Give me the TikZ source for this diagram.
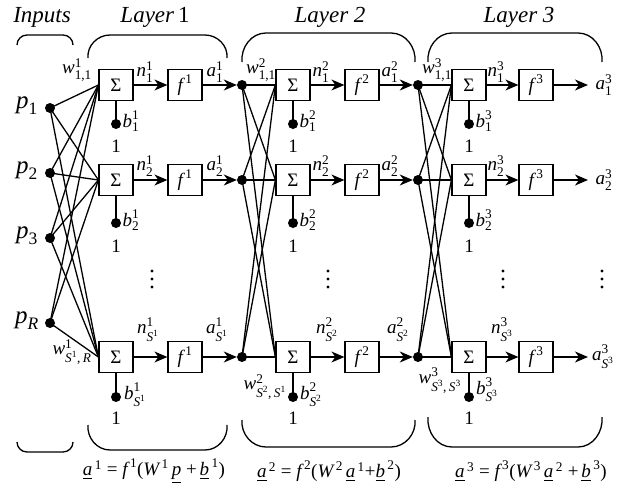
\documentclass[tikz,border=0pt]{standalone}
\usepackage{amsmath}
\usepackage{fontspec}
\setmainfont{Liberation Serif}
\usetikzlibrary{arrows.meta}
\newcommand{\I}[1]{\text{\itshape #1}}
\newcommand{\RR}[1]{\text{\upshape #1}}
\begin{document}
\begin{tikzpicture}[x=1pt,y=-1pt,
  font=\fontsize{19}{21}\selectfont,
  box/.style={draw, line width=1.2pt, minimum width=34pt, minimum height=31pt, inner sep=0pt},
  dot/.style={circle, fill, inner sep=0pt, minimum size=10pt},
  wire/.style={line width=1.3pt},
  arr/.style={wire, -{Stealth[length=13pt,width=11pt,inset=4pt]}},
  brace/.style={line width=1.3pt},
  big/.style={font=\fontsize{23}{26}\selectfont},
  inp/.style={font=\fontsize{25}{28}\selectfont},
  lbl/.style={inner sep=0pt}]
\useasboundingbox (0,0) rectangle (625,485);

% titles
\node[big] (tin) at (42,17) {\textit{Inputs}};
\node[big] (tl1) at (155,17) {\textit{Layer}\,1};
\node[big] (tl2) at (330,17) {\textit{Layer 2}};
\node[big] (tl3) at (519,17) {\textit{Layer 3}};

% top braces
\draw[brace] (17,45) to[out=90,in=180] (27,35) -- (63,35) to[out=0,in=90] (73,45);
\draw[brace] (88,58) to[out=95,in=180] (110,35) -- (205,35) to[out=0,in=85] (227,58);
\draw[brace] (242,62) to[out=95,in=180] (266,33) -- (391,33) to[out=0,in=85] (415,62);
\draw[brace] (428,62) to[out=95,in=180] (452,33) -- (578,33) to[out=0,in=85] (602,62);
% bottom braces
\draw[brace] (17,442) to[out=-90,in=180] (27,452) -- (63,452) to[out=0,in=-90] (73,442);
\draw[brace] (88,425) to[out=-95,in=180] (110,450) -- (205,450) to[out=0,in=-85] (227,425);
\draw[brace] (242,420) to[out=-95,in=180] (266,447) -- (391,447) to[out=0,in=-85] (415,420);
\draw[brace] (428,417) to[out=-95,in=180] (452,447) -- (578,447) to[out=0,in=-85] (602,417);

% inputs
\node[dot] (p1) at (50,108) {};
\node[dot] (p2) at (50,173) {};
\node[dot] (p3) at (50,238) {};
\node[dot] (pR) at (50,323) {};
\node[inp,lbl] (lp1) at (27,106) {$\I{p}_{\RR{1}}$};
\node[inp,lbl] (lp2) at (27,171) {$\I{p}_{\RR{2}}$};
\node[inp,lbl] (lp3) at (27,236) {$\I{p}_{\RR{3}}$};
\node[inp,lbl] (lpR) at (27,321) {$\I{p}_{\I{R}}$};

% boxes
\foreach \r/\y in {1/85,2/180,S/357}{
  \node[box] (s1\r) at (116,\y) {Σ};
  \node[box] (f1\r) at (185,\y) {$\I{f}^{\,\RR{1}}$};
  \node[dot] (d1\r) at (242,\y) {};
  \node[box] (s2\r) at (293,\y) {Σ};
  \node[box] (f2\r) at (362,\y) {$\I{f}^{\,\RR{2}}$};
  \node[dot] (d2\r) at (418,\y) {};
  \node[box] (s3\r) at (469,\y) {Σ};
  \node[box] (f3\r) at (536,\y) {$\I{f}^{\,\RR{3}}$};
  \coordinate (o\r) at (588,\y);
  \draw[arr] (s1\r) -- (f1\r);
  \draw[arr] (f1\r) -- (d1\r.west);
  \draw[arr] (s2\r) -- (f2\r);
  \draw[arr] (f2\r) -- (d2\r.west);
  \draw[arr] (s3\r) -- (f3\r);
  \draw[arr] (f3\r) -- (o\r);
}
% weights
\foreach \p in {p1,p2,p3,pR}{
  \foreach \r in {1,2,S}{\draw[wire] (\p.center) -- (s1\r.west);}
}
\foreach \a in {1,2,S}{
  \foreach \r in {1,2,S}{
    \draw[wire] (d1\a.center) -- (s2\r.west);
    \draw[wire] (d2\a.center) -- (s3\r.west);
  }
}
% biases
\foreach \L/\x in {1/116,2/293,3/469}{
  \foreach \r/\y/\o in {1/124/146,2/223/246,S/397/418}{
    \node[dot] (b\L\r) at (\x,\y) {};
    \node[lbl] (one\L\r) at (\x,\o) {1};
    \draw[wire] (s\L\r.south) -- (b\L\r.center);
  }
}
% bias labels
\node[lbl] at (131,121) {$\I{b}^{\RR{1}}_{\RR{1}}$};
\node[lbl] at (131,220) {$\I{b}^{\RR{1}}_{\RR{2}}$};
\node[lbl] at (135,395) {$\I{b}^{\RR{1}}_{\I{S}^{\RR{1}}}$};
\node[lbl] at (308,121) {$\I{b}^{\RR{2}}_{\RR{1}}$};
\node[lbl] at (308,220) {$\I{b}^{\RR{2}}_{\RR{2}}$};
\node[lbl] at (311,395) {$\I{b}^{\RR{2}}_{\I{S}^{\RR{2}}}$};
\node[lbl] at (484,121) {$\I{b}^{\RR{3}}_{\RR{1}}$};
\node[lbl] at (484,220) {$\I{b}^{\RR{3}}_{\RR{2}}$};
\node[lbl] at (487,390) {$\I{b}^{\RR{3}}_{\I{S}^{\RR{3}}}$};

% weight labels
\node[lbl] at (77,70) {$\I{w}^{\RR{1}}_{\RR{1,1}}$};
\node[lbl] at (261,70) {$\I{w}^{\RR{2}}_{\RR{1,1}}$};
\node[lbl] at (437,70) {$\I{w}^{\RR{3}}_{\RR{1,1}}$};
\node[lbl] at (72,352) {$\I{w}^{\RR{1}}_{\I{S}^{\RR{1}}\RR{,}\,\I{R}}$};
\node[lbl] at (265,387) {$\I{w}^{\RR{2}}_{\I{S}^{\RR{2}}\RR{,}\,\I{S}^{\RR{1}}}$};
\node[lbl] at (440,381) {$\I{w}^{\RR{3}}_{\I{S}^{\RR{3}}\RR{,}\,\I{S}^{\RR{3}}}$};

% n / a labels
\foreach \r/\y in {1/72,2/166}{
  \node[lbl] at (145,\y) {$\I{n}^{\RR{1}}_{\RR{\r}}$};
  \node[lbl] at (215,\y) {$\I{a}^{\RR{1}}_{\RR{\r}}$};
  \node[lbl] at (321,\y) {$\I{n}^{\RR{2}}_{\RR{\r}}$};
  \node[lbl] at (390,\y) {$\I{a}^{\RR{2}}_{\RR{\r}}$};
  \node[lbl] at (496,\y) {$\I{n}^{\RR{3}}_{\RR{\r}}$};
}
\node[lbl] at (604,85) {$\I{a}^{\RR{3}}_{\RR{1}}$};
\node[lbl] at (604,180) {$\I{a}^{\RR{3}}_{\RR{2}}$};
\node[lbl] at (148,330) {$\I{n}^{\RR{1}}_{\I{S}^{\RR{1}}}$};
\node[lbl] at (217,330) {$\I{a}^{\RR{1}}_{\I{S}^{\RR{1}}}$};
\node[lbl] at (327,330) {$\I{n}^{\RR{2}}_{\I{S}^{\RR{2}}}$};
\node[lbl] at (398,330) {$\I{a}^{\RR{2}}_{\I{S}^{\RR{2}}}$};
\node[lbl] at (502,330) {$\I{n}^{\RR{3}}_{\I{S}^{\RR{3}}}$};
\node[lbl] at (603,357) {$\I{a}^{\RR{3}}_{\I{S}^{\RR{3}}}$};

% vertical dots
\foreach \x in {152,328,503,602}{
  \foreach \yy in {271,279,287}{\fill (\x,\yy) circle (1.6pt);}
}

% equations
\node[lbl] (e1) at (154,471) {$\underline{\I{a}}^{\,\RR{1}}\;\RR{=}\;\I{f}^{\,\RR{1}}\RR{(}\I{W}^{\,\RR{1}}\,\underline{\I{p}}\;\RR{+}\,\underline{\I{b}}^{\,\RR{1}}\RR{)}$};
\node[lbl] (e2) at (329,471) {$\underline{\I{a}}^{\,\RR{2}}\;\RR{=}\;\I{f}^{\,\RR{2}}\RR{(}\I{W}^{\,\RR{2}}\,\underline{\I{a}}^{\,\RR{1}}\RR{+}\underline{\I{b}}^{\,\RR{2}}\RR{)}$};
\node[lbl] (e3) at (531,471) {$\underline{\I{a}}^{\,\RR{3}}\;\RR{=}\;\I{f}^{\,\RR{3}}\RR{(}\I{W}^{\,\RR{3}}\,\underline{\I{a}}^{\,\RR{2}}\;\RR{+}\,\underline{\I{b}}^{\,\RR{3}}\RR{)}$};
\end{tikzpicture}
\end{document}
